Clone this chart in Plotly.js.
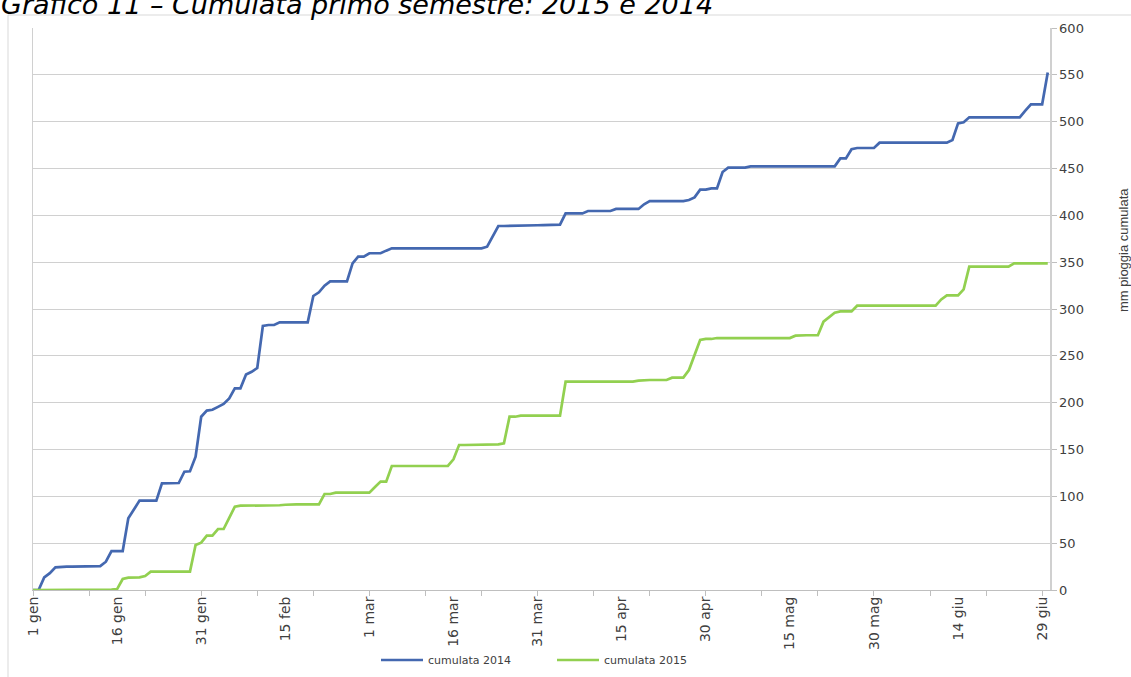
<!DOCTYPE html>
<html>
<head>
<meta charset="utf-8">
<script src="https://cdn.plot.ly/plotly-3.0.1.min.js"></script>
<style>
  html, body { margin: 0; padding: 0; background: #ffffff; }
  #chart { width: 1131px; height: 677px; }
</style>
</head>
<body>
<div id="chart"></div>
<script>
// Day labels for the first half of the year (the calendar includes 29 feb)
const monthNames = ['gen', 'feb', 'mar', 'apr', 'mag', 'giu'];
const monthLengths = [31, 29, 31, 30, 31, 30];
const days = [];
monthNames.forEach((m, k) => {
  for (let d = 1; d <= monthLengths[k]; d++) days.push(d + ' ' + m);
});

// Labels shown on the horizontal axis
const tickLabels = ['1 gen', '16 gen', '31 gen', '15 feb', '1 mar', '16 mar', '31 mar',
                    '15 apr', '30 apr', '15 mag', '30 mag', '14 giu', '29 giu'];

// Cumulative rainfall (mm), one value per day from 1 gen to 30 giu
const cumulata2014 = [
  0, 0, 13.5, 18, 24.2, 25, 25, 25, 25, 25,
  25, 25.3, 25.5, 30.2, 41.6, 41.6, 41.6, 76.5, 86, 95.4,
  95.4, 95.4, 95.4, 113.9, 114.2, 114.2, 114.2, 126.3, 126.7, 142.3,
  185, 191.5, 192.4, 195.5, 198.6, 204.6, 215.3, 215.3, 230, 233,
  237, 281.9, 282.9, 282.9, 285.8, 285.8, 285.8, 285.8, 285.8, 285.8,
  313.9, 317.8, 324.9, 329.5, 329.5, 329.5, 329.5, 348.8, 355.9, 355.9,
  359.5, 359.5, 359.5, 362.3, 364.8, 364.8, 364.8, 364.8, 364.8, 364.8,
  364.8, 364.8, 364.8, 364.8, 364.8, 364.8, 364.8, 364.8, 364.8, 364.8,
  364.8, 366.5, 377.5, 388.6, 388.6, 388.6, 388.6, 389, 389, 389.2,
  389.4, 389.5, 389.7, 389.8, 390, 402.1, 402.1, 402.1, 402.1, 404.6,
  404.6, 404.6, 404.6, 404.6, 406.8, 406.8, 406.8, 406.8, 406.8, 411.8,
  415.2, 415.2, 415.2, 415.2, 415.2, 415.2, 415.2, 416.4, 419.2, 427.4,
  427.4, 428.8, 428.8, 446.3, 450.9, 450.9, 450.9, 450.9, 452.3, 452.3,
  452.3, 452.3, 452.3, 452.3, 452.3, 452.3, 452.3, 452.3, 452.3, 452.3,
  452.3, 452.3, 452.3, 452.3, 460.8, 460.8, 470.5, 471.9, 471.9, 471.9,
  471.9, 477.6, 477.6, 477.6, 477.6, 477.6, 477.6, 477.6, 477.6, 477.6,
  477.6, 477.6, 477.6, 477.6, 480.4, 498.2, 499.3, 504.6, 504.6, 504.6,
  504.6, 504.6, 504.6, 504.6, 504.6, 504.6, 504.6, 511.7, 518.5, 518.5,
  518.5, 552.6
];

const cumulata2015 = [
  0, 0, 0, 0, 0, 0, 0, 0, 0, 0,
  0, 0, 0, 0, 0.5, 1, 11.7, 13.2, 13.5, 13.5,
  15, 19.6, 19.6, 19.6, 19.6, 19.6, 19.6, 19.6, 19.6, 48,
  50.5, 58, 58, 65.1, 65.1, 77, 89, 90, 90, 90,
  90, 90, 90, 90, 90.5, 91, 91.5, 91.5, 91.5, 91.5,
  91.5, 91.5, 102.5, 102.5, 104, 104, 104, 104, 104, 104,
  104, 110, 115.7, 115.7, 132.4, 132.4, 132.4, 132.4, 132.4, 132.4,
  132.4, 132.4, 132.4, 132.4, 132.4, 139.5, 154.8, 154.8, 154.8, 154.8,
  154.8, 154.8, 154.8, 155.5, 156.6, 185, 185, 186.1, 186.1, 186.1,
  186.1, 186.1, 186.1, 186.1, 186.1, 222.4, 222.4, 222.4, 222.4, 222.4,
  222.4, 222.4, 222.4, 222.4, 222.4, 222.4, 222.4, 222.4, 223.5, 224.2,
  224.2, 224.2, 224.2, 224.2, 226.7, 226.7, 226.7, 234.9, 250.9, 266.9,
  268, 268, 269, 269, 269, 269, 269, 269, 269, 269,
  269, 269, 269, 269, 269, 269, 271.5, 272, 272, 272,
  272, 286.5, 291.5, 296.1, 297.5, 297.5, 297.5, 303.5, 303.5, 303.5,
  303.5, 303.5, 303.5, 303.5, 303.5, 303.5, 303.5, 303.5, 303.5, 303.5,
  303.5, 303.5, 310.2, 314.5, 314.5, 314.5, 321, 345.2, 345.2, 345.2,
  345.2, 345.2, 345.2, 345.2, 345.2, 348.8, 348.8, 348.8, 348.8, 348.8,
  348.8, 348.8
];

const seriesNames = ['cumulata 2014', 'cumulata 2015'];
const seriesColors = ['#4468B0', '#92D050'];

const xIndex = days.map((_, i) => i);
const tickPositions = tickLabels.map(t => days.indexOf(t));

// Pixel geometry of the plotting area
const W = 1131, H = 677;
const M = { l: 33, r: 81, t: 28, b: 87 };
const plotW = W - M.l - M.r, plotH = H - M.t - M.b;
const px = x => (x - M.l) / plotW;
const py = y => (H - M.b - y) / plotH;

const textFont = 'DejaVu Sans, Verdana, sans-serif';

const traces = [cumulata2014, cumulata2015].map((vals, k) => ({
  type: 'scatter',
  mode: 'lines',
  name: seriesNames[k],
  x: xIndex.slice(0, vals.length),
  y: vals,
  line: { color: seriesColors[k], width: 2.7 },
  hoverinfo: 'x+y'
}));

// Legend below the axis: a short line sample followed by the series name
const legendLeft = [381, 557];
const legendSampleLen = 42;
const legendY = 660;
const legendShapes = seriesNames.map((_, k) => ({
  type: 'line', xref: 'paper', yref: 'paper',
  x0: px(legendLeft[k]), x1: px(legendLeft[k] + legendSampleLen),
  y0: py(legendY), y1: py(legendY),
  line: { color: seriesColors[k], width: 2.6 }
}));
const legendTexts = seriesNames.map((name, k) => ({
  text: name,
  xref: 'paper', yref: 'paper',
  x: px(legendLeft[k] + legendSampleLen + 3), xanchor: 'left',
  y: py(legendY), yanchor: 'middle',
  showarrow: false,
  font: { family: textFont, size: 11, color: '#404040' }
}));

const layout = {
  width: W,
  height: H,
  margin: M,
  paper_bgcolor: '#ffffff',
  plot_bgcolor: '#ffffff',
  showlegend: false,
  xaxis: {
    range: [0, 181.4],
    tickmode: 'array',
    tickvals: tickPositions,
    ticktext: tickLabels,
    tickangle: -90,
    ticks: '',
    showgrid: false,
    zeroline: false,
    showline: true,
    linecolor: '#BFBFBF',
    linewidth: 1,
    automargin: false,
    tickfont: { family: textFont, size: 14, color: '#404040' },
    minor: { tick0: 0, dtick: 10, ticks: 'outside', ticklen: 5, tickcolor: '#BFBFBF', tickwidth: 1, showgrid: false },
    fixedrange: true
  },
  yaxis: {
    side: 'right',
    range: [0, 600],
    dtick: 50,
    showgrid: true,
    gridcolor: '#D0D0D0',
    gridwidth: 1,
    zeroline: false,
    showline: true,
    mirror: true,
    linecolor: '#D0D0D0',
    linewidth: 1.5,
    ticks: 'outside',
    ticklen: 5,
    tickcolor: '#BFBFBF',
    automargin: false,
    tickfont: { family: textFont, size: 13, color: '#404040' },
    fixedrange: true
  },
  shapes: [
    {
      type: 'rect', xref: 'paper', yref: 'paper',
      x0: px(8), x1: px(W + 20), y0: py(H + 20), y1: py(15),
      line: { color: '#D9D9D9', width: 1 }, fillcolor: 'rgba(0,0,0,0)', layer: 'below'
    }
  ].concat(legendShapes),
  annotations: [
    {
      text: 'Grafico 11 – Cumulata primo semestre: 2015 e 2014',
      xref: 'paper', yref: 'paper',
      x: px(-1), xanchor: 'left',
      y: py(5), yanchor: 'middle',
      showarrow: false,
      font: { family: textFont, size: 27, style: 'italic', color: '#000000' }
    },
    {
      text: 'mm pioggia cumulata',
      xref: 'paper', yref: 'paper',
      x: px(1124), xanchor: 'center',
      y: py(250), yanchor: 'middle',
      textangle: -90,
      showarrow: false,
      font: { family: 'Liberation Sans, Arial, sans-serif', size: 13, color: '#404040' }
    }
  ].concat(legendTexts)
};

Plotly.newPlot('chart', traces, layout, { staticPlot: true, displayModeBar: false });
</script>
</body>
</html>
